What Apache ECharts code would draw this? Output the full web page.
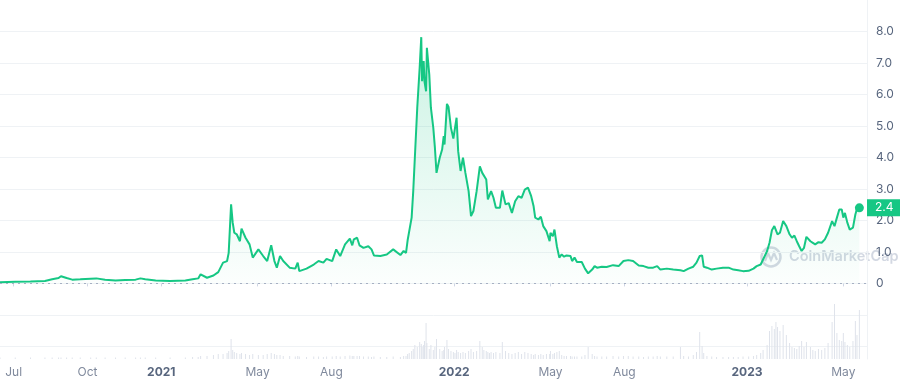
<!DOCTYPE html>
<html>
<head>
<meta charset="utf-8">
<script src="https://cdn.jsdelivr.net/npm/echarts@6.0.0/dist/echarts.min.js"></script>
<style>
html,body{margin:0;padding:0;background:#ffffff;}
#chart{width:900px;height:384px;}
</style>
</head>
<body>
<div id="chart"></div>
<script>
// ---------- DATA ----------
const dates2020 = ['2020-06-14','2020-07-03','2020-07-22','2020-08-09','2020-08-18','2020-08-26','2020-08-29','2020-09-05','2020-09-12','2020-09-22',
  '2020-10-05','2020-10-12','2020-10-23','2020-11-05','2020-11-17','2020-11-30','2020-12-06','2020-12-12','2020-12-25'];
const price2020 = [0.04,0.05,0.06,0.08,0.13,0.17,0.23,0.17,0.12,0.13, 0.15,0.16,0.12,0.09,0.11,0.12,0.16,0.13,0.09];
const volume2020 = [8,8,8,8,8,8,8,8,8,8, 8,8,8,8,8,8,8,8,8];

const dates2021 = ['2021-01-12','2021-01-31','2021-02-09','2021-02-16','2021-02-19','2021-02-27','2021-03-07','2021-03-13','2021-03-19','2021-03-24',
  '2021-03-26','2021-03-29','2021-03-31','2021-04-02','2021-04-05','2021-04-09','2021-04-11','2021-04-16','2021-04-21','2021-04-25',
  '2021-05-02','2021-05-08','2021-05-13','2021-05-18','2021-05-22','2021-05-25','2021-05-29','2021-06-02','2021-06-10','2021-06-17',
  '2021-06-20','2021-06-22','2021-07-01','2021-07-10','2021-07-16','2021-07-22','2021-07-26','2021-08-02','2021-08-07','2021-08-12',
  '2021-08-18','2021-08-24','2021-08-27','2021-08-29','2021-09-02','2021-09-05','2021-09-10','2021-09-16','2021-09-20','2021-09-23',
  '2021-10-01','2021-10-09','2021-10-17','2021-10-26','2021-10-30','2021-11-02','2021-11-04','2021-11-06','2021-11-09','2021-11-11',
  '2021-11-13','2021-11-16','2021-11-19','2021-11-21','2021-11-22','2021-11-24','2021-11-25','2021-11-27','2021-11-28','2021-12-01',
  '2021-12-03','2021-12-06','2021-12-08','2021-12-10','2021-12-14','2021-12-17','2021-12-19','2021-12-20','2021-12-23','2021-12-25',
  '2021-12-28','2021-12-31'];
const price2021 = [0.08,0.09,0.13,0.16,0.29,0.18,0.25,0.36,0.66,0.71,
  0.97,2.51,1.93,1.61,1.56,1.34,1.74,1.45,1.24,0.82,
  1.08,0.87,0.71,1.21,0.71,0.50,0.87,0.71,0.50,0.47,
  0.66,0.39,0.47,0.60,0.71,0.66,0.78,0.71,1.08,0.87,
  1.24,1.42,1.21,1.40,1.45,1.21,1.13,1.18,1.08,0.89,
  0.87,0.92,1.08,0.90,1.03,0.97,1.37,1.34,2.09,2.93,
  3.99,5.58,6.85,7.82,6.42,7.06,6.42,6.10,7.48,6.63,
  5.58,4.94,4.31,3.51,3.99,4.25,4.68,4.41,5.70,5.60,
  4.94,4.60];
const volume2021 = [8,8,10,10,15,15,20,25,25,30,
  40,100,45,35,30,25,30,25,20,25,
  20,20,25,30,25,20,20,15,15,12,
  15,12,10,12,12,10,12,12,15,12,
  15,18,15,15,15,15,12,12,10,12,
  10,10,12,10,15,15,25,30,40,50,
  70,60,85,75,60,70,90,180,80,50,
  70,45,60,100,50,40,45,60,95,50,
  40,35];

const dates2022 = ['2022-01-02','2022-01-04','2022-01-06','2022-01-09','2022-01-12','2022-01-15','2022-01-19','2022-01-22','2022-01-25','2022-01-29',
  '2022-02-02','2022-02-05','2022-02-07','2022-02-10','2022-02-12','2022-02-14','2022-02-16','2022-02-19','2022-02-22','2022-02-27',
  '2022-03-02','2022-03-06','2022-03-10','2022-03-14','2022-03-18','2022-03-22','2022-03-26','2022-03-30','2022-04-03','2022-04-07',
  '2022-04-10','2022-04-12','2022-04-16','2022-04-19','2022-04-22','2022-04-26','2022-04-30','2022-05-01','2022-05-04','2022-05-06',
  '2022-05-09','2022-05-12','2022-05-15','2022-05-18','2022-05-21','2022-05-26','2022-05-28','2022-05-31','2022-06-03','2022-06-09',
  '2022-06-13','2022-06-17','2022-06-22','2022-06-25','2022-06-28','2022-07-04','2022-07-10','2022-07-18','2022-07-25','2022-07-31',
  '2022-08-06','2022-08-12','2022-08-19','2022-08-25','2022-08-31','2022-09-06','2022-09-11','2022-09-15','2022-09-23','2022-10-01',
  '2022-10-10','2022-10-14','2022-10-20','2022-10-26','2022-10-30','2022-11-03','2022-11-06','2022-11-08','2022-11-12','2022-11-18',
  '2022-11-24','2022-12-02','2022-12-09','2022-12-15','2022-12-21','2022-12-27'];
const price2022 = [4.60,5.26,4.20,3.57,3.99,3.51,2.93,2.14,2.30,2.93,
  3.72,3.51,3.57,3.30,2.67,2.72,2.93,2.72,2.40,2.40,
  2.95,2.51,2.55,2.24,2.61,2.77,2.72,2.98,3.04,2.77,
  2.45,2.09,2.03,2.12,1.82,1.66,1.34,1.61,1.50,1.71,
  1.18,0.82,0.92,0.85,0.89,0.87,0.71,0.82,0.68,0.68,
  0.47,0.32,0.44,0.55,0.50,0.53,0.52,0.58,0.55,0.71,
  0.74,0.71,0.57,0.55,0.50,0.50,0.55,0.44,0.47,0.44,
  0.42,0.39,0.47,0.53,0.66,0.87,0.89,0.53,0.50,0.44,
  0.47,0.50,0.50,0.44,0.42,0.39];
const volume2022 = [30,45,35,30,35,30,40,50,35,40,
  90,60,45,40,35,30,35,30,35,30,
  85,40,30,25,30,35,25,35,30,25,
  20,25,20,25,20,25,25,40,25,30,
  35,40,20,15,15,15,12,12,12,12,
  20,60,25,15,12,12,12,15,12,15,
  15,12,12,10,12,12,15,12,12,12,
  60,15,12,20,35,135,65,30,15,12,
  10,10,10,10,10,12];

const dates2023 = ['2023-01-03','2023-01-09','2023-01-13','2023-01-18','2023-01-21','2023-01-26','2023-01-29','2023-02-01','2023-02-04','2023-02-06',
  '2023-02-08','2023-02-11','2023-02-15','2023-02-19','2023-02-23','2023-02-26','2023-03-01','2023-03-04','2023-03-07','2023-03-10',
  '2023-03-13','2023-03-16','2023-03-21','2023-03-24','2023-03-27','2023-03-31','2023-04-04','2023-04-08','2023-04-12','2023-04-17',
  '2023-04-20','2023-04-23','2023-04-26','2023-04-29','2023-05-01','2023-05-03','2023-05-06','2023-05-09','2023-05-13','2023-05-16',
  '2023-05-18','2023-05-21'];
const price2023 = [0.40,0.47,0.55,0.60,0.76,1.03,1.29,1.69,1.82,1.87,
  1.56,1.61,1.98,1.82,1.56,1.45,1.52,1.34,1.18,1.03,
  1.13,1.48,1.34,1.29,1.24,1.31,1.29,1.40,1.61,1.98,
  1.82,2.09,2.35,2.35,2.09,2.24,1.93,1.71,1.77,2.19,
  2.37,2.40];
const volume2023 = [12,15,20,30,45,70,140,165,150,185,
  160,140,170,120,80,60,55,50,65,90,
  60,85,60,45,40,50,45,55,80,185,
  275,130,95,90,130,85,70,60,90,190,
  120,245];

// axis ticks / labels
const xTickDates = ['2020-07-01','2020-10-01','2021-01-01','2021-05-01','2021-08-01','2022-01-01','2022-05-01','2022-08-01','2023-01-01','2023-05-01'];
const monthNames = ['Jan','Feb','Mar','Apr','May','Jun','Jul','Aug','Sep','Oct','Nov','Dec'];
const priceLabelTicks = [0,1,2,3,4,5,6,7,8];
const priceGridTicks = [-2,-1,0,1,2,3,4,5,6,7,8];
const lastPriceText = '2.4';
const xMinDate = '2020-06-14';
const xMaxDate = '2023-05-30 12:00';

// ---------- BUILD ----------
function toTime(s) {
  const parts = s.split(' ');
  const ymd = parts[0].split('-').map(Number);
  const hm = parts[1] ? parts[1].split(':').map(Number) : [0, 0];
  return new Date(ymd[0], ymd[1] - 1, ymd[2], hm[0], hm[1]).getTime();
}
const dates = dates2020.concat(dates2021, dates2022, dates2023);
const prices = price2020.concat(price2021, price2022, price2023);
const volumes = volume2020.concat(volume2021, volume2022, volume2023);
const times = dates.map(toTime);
const priceData = times.map((t, i) => [t, prices[i]]);
const volumeData = times.map((t, i) => [t, volumes[i]]);
const lastTime = times[times.length - 1];
const lastPrice = prices[prices.length - 1];
const xMin = toTime(xMinDate);
const xMax = toTime(xMaxDate);
const xTicks = xTickDates.map(toTime);

const GREEN = '#16c784';
const WM = 'rgba(150,162,185,0.42)';
const chart = echarts.init(document.getElementById('chart'), null, {renderer: 'canvas'});

const option = {
  animation: false,
  backgroundColor: '#ffffff',
  textStyle: {fontFamily: 'Inter, "Noto Sans", sans-serif'},
  grid: {left: 0, right: 33, top: 0, bottom: 25, containLabel: false},
  xAxis: {
    type: 'value',
    min: xMin,
    max: xMax,
    axisLine: {show: true, lineStyle: {color: '#eff2f5', width: 1}},
    axisTick: {show: true, customValues: xTicks, length: 3, lineStyle: {color: '#cfd6e4'}},
    splitLine: {show: false},
    axisLabel: {
      customValues: xTicks,
      margin: 7,
      color: '#808a9d',
      fontSize: 12,
      fontFamily: 'Inter',
      formatter: function (value) {
        const d = new Date(value);
        const m = d.getMonth();
        return m === 0 ? '{yr|' + d.getFullYear() + '}' : monthNames[m];
      },
      rich: {yr: {fontWeight: 'bold', color: '#58667e', fontSize: 12, fontFamily: 'Inter'}}
    }
  },
  yAxis: [
    {
      type: 'value',
      position: 'right',
      min: -2.4,
      max: 9,
      axisLine: {show: true, lineStyle: {color: '#eff2f5'}},
      axisTick: {show: false, customValues: priceGridTicks},
      splitLine: {show: true, lineStyle: {color: '#eff2f5', width: 1}},
      axisLabel: {
        customValues: priceLabelTicks,
        margin: 9,
        color: '#58667e',
        fontSize: 12,
        fontFamily: 'Inter',
        formatter: v => (v === 0 ? '0' : v.toFixed(1))
      }
    },
    {
      type: 'value',
      min: 0,
      max: 1795,
      show: false,
      splitLine: {show: false}
    }
  ],
  series: [
    {
      name: 'Volume',
      type: 'bar',
      yAxisIndex: 1,
      data: volumeData,
      barWidth: 1,
      itemStyle: {color: '#dfe3eb'},
      z: 1
    },
    {
      name: 'Price',
      type: 'line',
      yAxisIndex: 0,
      data: priceData,
      showSymbol: false,
      symbol: 'none',
      lineStyle: {color: GREEN, width: 2},
      itemStyle: {color: GREEN},
      areaStyle: {
        color: new echarts.graphic.LinearGradient(0, 0, 0, 1, [
          {offset: 0, color: 'rgba(22,199,132,0.32)'},
          {offset: 1, color: 'rgba(22,199,132,0.02)'}
        ])
      },
      z: 3,
      markLine: {
        silent: true,
        symbol: ['none', 'none'],
        animation: false,
        label: {show: false},
        data: [
          {yAxis: 0, lineStyle: {color: '#a6b0c3', type: [2, 4], width: 1}, label: {show: false}}
        ]
      },
      markPoint: {
        silent: true,
        animation: false,
        data: [{coord: [lastTime, lastPrice], symbol: 'circle', symbolSize: 9, itemStyle: {color: GREEN}, label: {show: false}}]
      }
    },
    {
      name: 'LastPrice',
      type: 'line',
      yAxisIndex: 0,
      data: [],
      silent: true,
      markLine: {
        silent: true,
        symbol: ['none', 'none'],
        animation: false,
        lineStyle: {color: 'rgba(0,0,0,0)', width: 0},
        label: {
          show: true, position: 'end', distance: 0,
          formatter: lastPriceText,
          color: '#ffffff', fontSize: 12, fontFamily: 'Inter',
          backgroundColor: GREEN, padding: [3, 8, 2, 8]
        },
        data: [[{coord: [lastTime, lastPrice]}, {coord: [xMax, lastPrice]}]]
      }
    }
  ],
  graphic: [
    {
      type: 'group',
      silent: true,
      z: 0,
      children: [
        {type: 'circle', shape: {cx: 771, cy: 257, r: 9.5}, style: {fill: 'none', stroke: WM, lineWidth: 2.5}},
        {type: 'polyline', shape: {points: [[765, 261], [768, 253], [771, 260], [774, 253], [777, 260]]},
         style: {fill: 'none', stroke: WM, lineWidth: 2.2}},
        {type: 'text', style: {x: 789, y: 257, text: 'CoinMarketCap', fill: WM,
          font: '600 14.5px Inter', verticalAlign: 'middle', align: 'left'}}
      ]
    }
  ]
};
chart.setOption(option);
</script>
</body>
</html>
